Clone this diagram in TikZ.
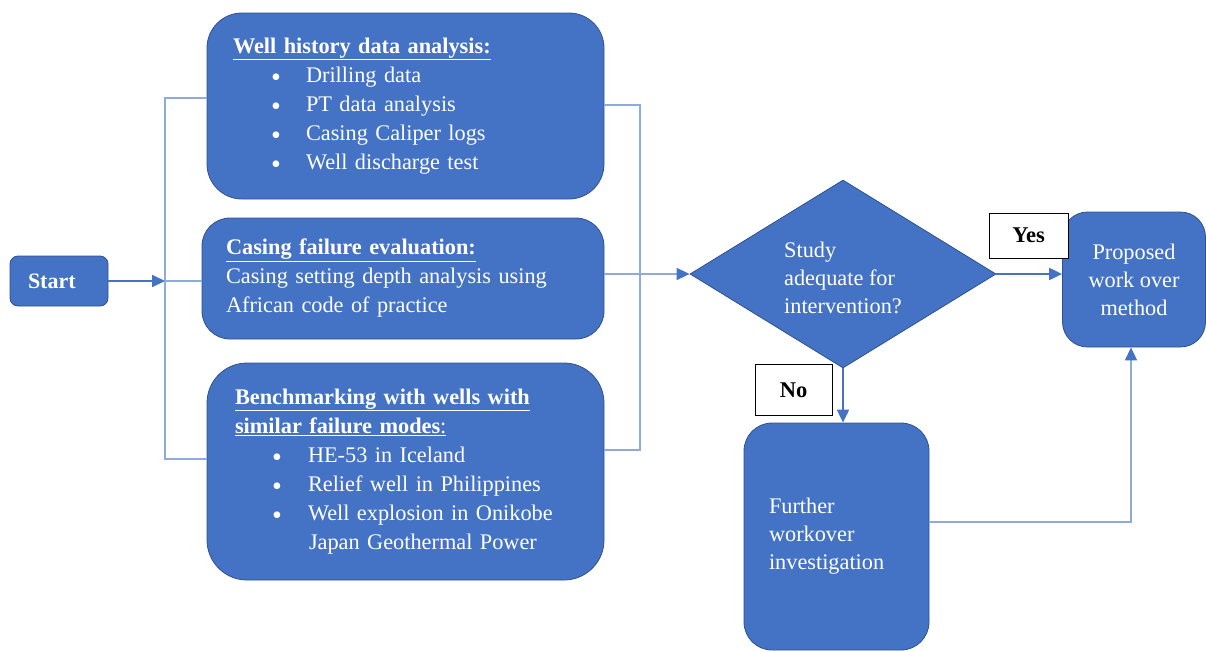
\documentclass[tikz,border=0pt]{standalone}
\usepackage{fontspec}
\setmainfont{Liberation Serif}
\usetikzlibrary{shapes.geometric,arrows.meta}
\definecolor{fillblue}{HTML}{4472C4}
\definecolor{edgeblue}{HTML}{2F528F}
\definecolor{lineblue}{HTML}{8FAADC}
\definecolor{arrowblue}{HTML}{4472C4}
\newcommand{\bigbul}{\raisebox{-4pt}{\fontsize{28}{29}\selectfont\textbullet}}
\begin{document}
\begin{tikzpicture}[x=1pt,y=-1pt,
  box/.style={draw=edgeblue, line width=0.8pt, fill=fillblue, text=white, inner ysep=0pt},
  txt/.style={font=\fontsize{22.3}{29}\selectfont},
  txtb/.style={font=\fontsize{22.3}{28}\selectfont},
  link/.style={draw=lineblue, line width=1.4pt},
  arr/.style={draw=arrowblue, line width=2pt, -{Triangle[length=13pt,width=12pt]}},
  larr/.style={draw=lineblue, line width=1.6pt, -{Triangle[length=13pt,width=12pt,color=arrowblue]}},
  tag/.style={draw=black, line width=1pt, fill=white, font=\fontsize{22.5}{27}\selectfont\bfseries, inner sep=0pt}
]
\useasboundingbox (0,0) rectangle (1206,651);

% boxes
\node[box, rounded corners=8pt, minimum width=98pt, minimum height=50pt, inner xsep=18pt, text width=62pt, align=left, font=\fontsize{22}{26}\selectfont\bfseries] (start) at (59,281) {Start};

\node[box, rounded corners=35pt, minimum width=397pt, minimum height=186pt, inner xsep=26pt, text width=345pt, align=left, txt] (b1) at (405.5,106)
{\underline{\textbf{Well history data analysis:}}\\
\hspace*{38pt}\makebox[35pt][l]{\bigbul}Drilling data\\
\hspace*{38pt}\makebox[35pt][l]{\bigbul}PT data analysis\\
\hspace*{38pt}\makebox[35pt][l]{\bigbul}Casing Caliper logs\\
\hspace*{38pt}\makebox[35pt][l]{\bigbul}Well discharge test};

\node[box, rounded corners=28pt, minimum width=402pt, minimum height=121pt, inner xsep=24pt, text width=354pt, align=left, txt] (b2) at (403,278.5)
{\underline{\textbf{Casing failure evaluation:}}\\
Casing setting depth analysis using\\
African code of practice};

\node[box, rounded corners=40pt, minimum width=397pt, minimum height=217pt, inner xsep=28pt, text width=341pt, align=left, txt] (b3) at (405.5,471.5)
{\underline{\textbf{Benchmarking with wells with}}\\
\underline{\textbf{similar failure modes}:}\\
\hspace*{37pt}\makebox[36pt][l]{\bigbul}HE-53 in Iceland\\
\hspace*{37pt}\makebox[36pt][l]{\bigbul}Relief well in Philippines\\
\hspace*{37pt}\makebox[36pt][l]{\bigbul}Well explosion in Onikobe\\
\hspace*{74pt}Japan Geothermal Power};

\node[box, diamond, aspect=1.63, minimum width=306pt, minimum height=188pt, inner sep=0pt, align=left, txtb] (dia) at (843,274)
{\rule{0pt}{24pt}Study\\adequate for\\intervention?};

\node[box, rounded corners=25pt, minimum width=143pt, minimum height=135pt, inner xsep=0pt, align=center, txtb] (prop) at (1134,279.5)
{Proposed\\work over\\method};

\node[box, rounded corners=28pt, minimum width=185pt, minimum height=227pt, inner xsep=25pt, text width=135pt, align=left, txtb] (fur) at (836.5,536.5)
{Further\\workover\\investigation};

% connectors
\coordinate (lj) at (165,281);
\coordinate (lt) at (165,98);
\coordinate (lb) at (165,459);
\coordinate (rt) at (640,105);
\coordinate (rb) at (640,450);
\coordinate (fc) at (1131,522);

\draw[link] ([yshift=8pt]b1.west) -- (lt) -- (lb) -- ([yshift=12.5pt]b3.west);
\draw[link] (lj) -- (lj -| b2.west);
\draw[arr] (start.east) -- (lj);
\draw[link] ([yshift=1pt]b1.east) -- (rt) -- (rb) -- ([yshift=21.5pt]b3.east);
\draw[larr] (b2.east |- dia.west) -- (dia.west);
\draw[arr] (dia.east) -- (prop.west |- dia.east);
\draw[arr] (dia.south) -- (dia.south |- fur.north);
\draw[larr] ([yshift=14.5pt]fur.east) -- (fc) -- (fc |- prop.south);

% labels
\node[tag, minimum width=79pt, minimum height=45pt] (yes) at (1028.5,235.5) {Yes};
\node[tag, minimum width=77pt, minimum height=51pt] (no) at (793.5,390) {No};
\end{tikzpicture}
\end{document}
